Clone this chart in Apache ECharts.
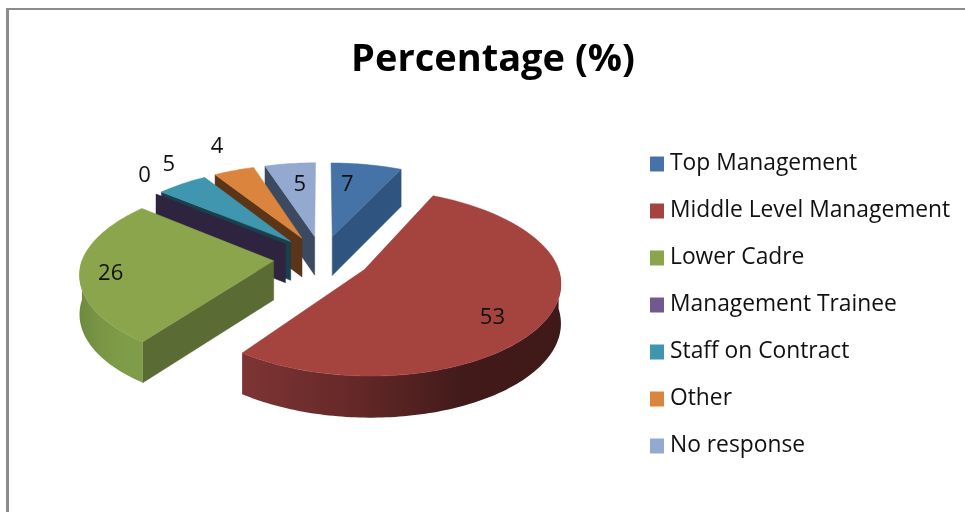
<!DOCTYPE html>
<html>
<head>
<meta charset="utf-8">
<style>html,body{margin:0;padding:0;background:#fff}#c{width:965px;height:512px}</style>
<script src="https://cdn.jsdelivr.net/npm/echarts@6/dist/echarts.min.js"></script>
</head>
<body>
<div id="c"></div>
<script>
const categories = ['Top Management','Middle Level Management','Lower Cadre','Management Trainee','Staff on Contract','Other','No response'];
const values = [7,53,26,0,5,4,5];
const topColors = ['#4572a7','#a5433f','#8aa54c','#71588f','#3f96ae','#db843d','#93a9cf'];
const wallColors = ['#2f5480','#7a3030','#5a6b33','#2e2440','#1a3f4d','#5c3518','#3b4a60'];
const rimStops = {
  1: ['#7e3434','#652828','#421a1a','#3f1818'],
  2: ['#6f8a40','#7a9646','#7f9c48','#7f9c48']
};
const drawOrder = [0,6,5,4,3,2,1];
const labelOffsets = [[15,-52],[128,48],[-163,13],[-141,-68],[-122,-77],[-85,-92],[-15,-52]];

const CX = 322, CY = 258, RX = 191, RY = 88, PERSP_X_BACK = 0.14, PERSP_X_FRONT = 0.125, PERSP_BACK = 0.125, PERSP_FRONT = 0.14, EXPLODE = 0.254;
const total = values.reduce((a,b)=>a+b,0);
let running = 0;
const starts = values.map(v=>{const s=running; running+=v; return s;});

function project(u,v,bottom){
  const sx = 1/(1-(v<0?PERSP_X_BACK:PERSP_X_FRONT)*v);
  const sy = 1/(1-(v<0?PERSP_BACK:PERSP_FRONT)*v);
  return [CX+RX*u*sx, CY+RY*v*sy+(bottom?25+14*sy:0)];
}
function renderSlice(params, api){
  const idx = params.seriesIndex;
  const a = api.value(0)/total*Math.PI*2, b = (api.value(0)+api.value(1))/total*Math.PI*2;
  const mid=(a+b)/2, ex=EXPLODE*Math.sin(mid), ey=-EXPLODE*Math.cos(mid);
  const pt=(t,bottom)=>project(ex+Math.sin(t),ey-Math.cos(t),bottom);
  const apex=project(ex,ey,false), apexB=project(ex,ey,true);
  const children=[];
  const poly=(points,fill)=>children.push({type:'polygon',shape:{points},style:{fill,stroke:typeof fill==='string'?fill:null,lineWidth:typeof fill==='string'?0.5:0}});
  if(Math.sin(a)<-1e-6) poly([apex,pt(a,false),pt(a,true),apexB],wallColors[idx]);
  if(Math.sin(b)>1e-6) poly([apex,pt(b,false),pt(b,true),apexB],wallColors[idx]);
  const ra=Math.max(a,Math.PI/2), rb=Math.min(b,Math.PI*1.5);
  if(rb>ra){
    const up=[],down=[];
    for(let t=ra;t<rb;t+=0.02){up.push(pt(t,false));down.unshift(pt(t,true));}
    up.push(pt(rb,false));down.unshift(pt(rb,true));
    const c=rimStops[idx]||[wallColors[idx],wallColors[idx],wallColors[idx],wallColors[idx]];
    const fill=new echarts.graphic.LinearGradient(0,0,1,0,[
      {offset:0,color:c[0]},{offset:0.35,color:c[1]},{offset:0.7,color:c[2]},{offset:1,color:c[3]}]);
    poly(up.concat(down),fill);
  }
  if(b>a){
    const top=[apex];
    for(let t=a;t<b;t+=0.02) top.push(pt(t,false));
    top.push(pt(b,false));
    poly(top,topColors[idx]);
  }
  const o=labelOffsets[idx];
  children.push({type:'text',z2:50,style:{text:String(api.value(1)),x:apex[0]+o[0],y:apex[1]+o[1],
    fill:'#111',font:'22px "Open Sans"',textAlign:'center',textVerticalAlign:'middle'}});
  return {type:'group',children};
}
const series = categories.map((name,i)=>({
  name,type:'custom',coordinateSystem:'none',renderItem:renderSlice,silent:true,
  z:2+drawOrder.indexOf(i),itemStyle:{color:topColors[i]},
  data:[[starts[i],values[i]]]
}));
const chart=echarts.init(document.getElementById('c'),null,{renderer:'canvas'});
chart.setOption({
  animation:false,backgroundColor:'#fff',
  title:{text:'Percentage (%)',left:488,top:36,textAlign:'center',
    textStyle:{fontFamily:'Open Sans',fontSize:38,fontWeight:700,color:'#000'}},
  legend:{orient:'vertical',left:645,top:146,itemWidth:14,itemHeight:15,itemGap:21,icon:'rect',
    data:categories,selectedMode:false,
    textStyle:{fontFamily:'Open Sans',fontSize:22.8,color:'#111',padding:[0,0,0,1],lineHeight:26}},
  graphic:[
    {type:'rect',shape:{x:6,y:8,width:959,height:2},style:{fill:'#8c8c8c'},silent:true},
    {type:'rect',shape:{x:6,y:8,width:3,height:504},style:{fill:'#8c8c8c'},silent:true}
  ],
  series
});
</script>
</body>
</html>
